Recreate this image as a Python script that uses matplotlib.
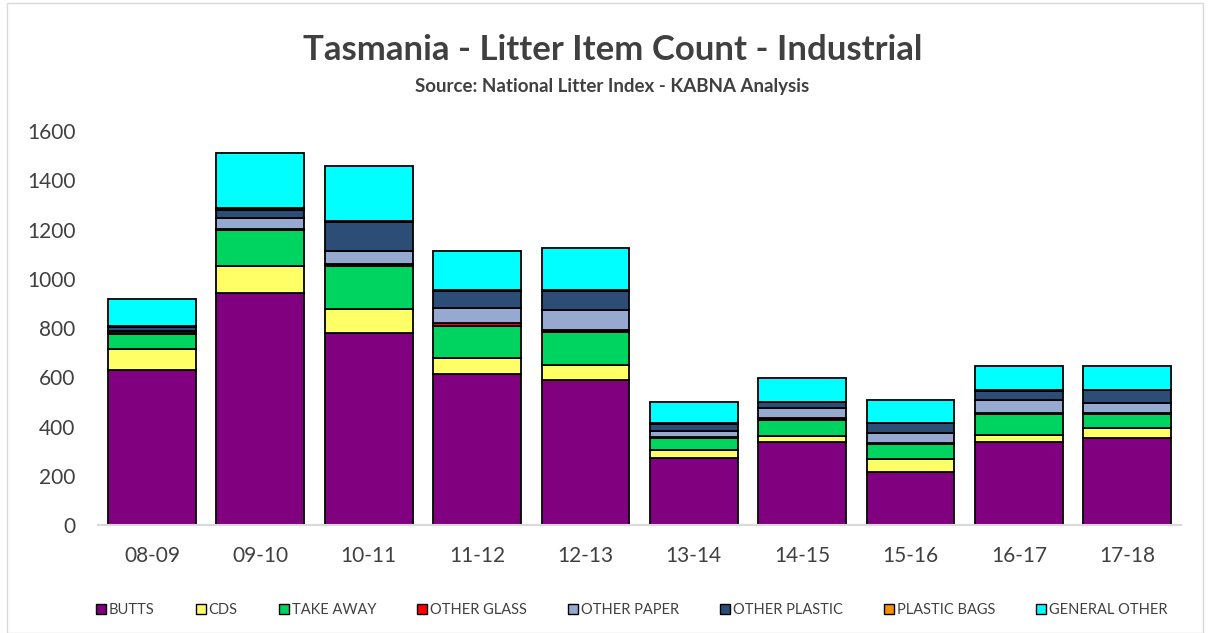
import matplotlib.pyplot as plt
import matplotlib.patches as mpatches
import numpy as np

plt.rcParams['font.family'] = ['Lato', 'DejaVu Sans']

years = ["08-09", "09-10", "10-11", "11-12", "12-13", "13-14", "14-15", "15-16", "16-17", "17-18"]

butts = [628, 943, 778, 612, 587, 272, 338, 217, 336, 354]
cds = [85, 110, 100, 68, 62, 33, 25, 52, 28, 40]
take_away = [62, 145, 172, 128, 133, 48, 65, 62, 85, 55]
other_glass = [3, 5, 12, 12, 8, 6, 8, 4, 5, 6]
other_paper = [8, 45, 52, 60, 82, 22, 38, 40, 52, 40]
other_plastic = [20, 30, 115, 70, 80, 30, 25, 38, 40, 52]
plastic_bags = [2, 8, 6, 6, 2, 2, 2, 2, 2, 2]
general_other = [110, 223, 225, 158, 172, 85, 97, 92, 97, 95]

series = [butts, cds, take_away, other_glass, other_paper, other_plastic, plastic_bags, general_other]
names = ["BUTTS", "CDS", "TAKE AWAY", "OTHER GLASS", "OTHER PAPER", "OTHER PLASTIC", "PLASTIC BAGS", "GENERAL OTHER"]
colors = ["#800080", "#FFFF66", "#00D460", "#FF0000", "#95A9D1", "#2C4D75", "#F79100", "#00FFFF"]

fig = plt.figure(figsize=(12.08, 6.33), dpi=100)
ax = fig.add_axes([0.081, 0.1706, 0.897, 0.6224])

x = np.arange(len(years))
bottom = np.zeros(len(years))
for vals, name, col in zip(series, names, colors):
    ax.bar(x, vals, 0.81, bottom=bottom, color=col, edgecolor="black", linewidth=1.3, label=name)
    bottom += np.array(vals)

ax.set_xlim(-0.5, len(years) - 0.5)
ax.set_ylim(0, 1600)
ax.set_yticks(range(0, 1601, 200))
ax.set_xticks(x)
ax.set_xticklabels(years)
ax.tick_params(axis="both", length=0, labelsize=15, colors="#404040")
ax.tick_params(axis="x", pad=15)
ax.tick_params(axis="y", pad=16)
for side in ["top", "right", "left"]:
    ax.spines[side].set_visible(False)
ax.spines["bottom"].set_color("#d9d9d9")
ax.spines["bottom"].set_linewidth(1.5)

fig.text(0.507, 0.921, "Tasmania - Litter Item Count - Industrial", ha="center", va="center",
         fontsize=25, fontweight="bold", color="#404040")
fig.text(0.507, 0.864, "Source: National Litter Index - KABNA Analysis", ha="center", va="center",
         fontsize=13.5, fontweight="bold", color="#404040")

handles = [mpatches.Patch(facecolor=c, edgecolor="black", linewidth=1.0) for c in colors]
fig.legend(handles, names, loc="center", bbox_to_anchor=(0.523, 0.036), ncol=8, frameon=False,
           fontsize=10.5, handlelength=0.7, handleheight=0.7, handletextpad=0.2, columnspacing=2.8,
           labelcolor="#404040")

# outer frame
fig.patches.append(mpatches.Rectangle((0.006, 0.0), 0.99, 0.995, transform=fig.transFigure,
                                      fill=False, edgecolor="#d9d9d9", linewidth=1))

fig.savefig("out.png", dpi=100)
